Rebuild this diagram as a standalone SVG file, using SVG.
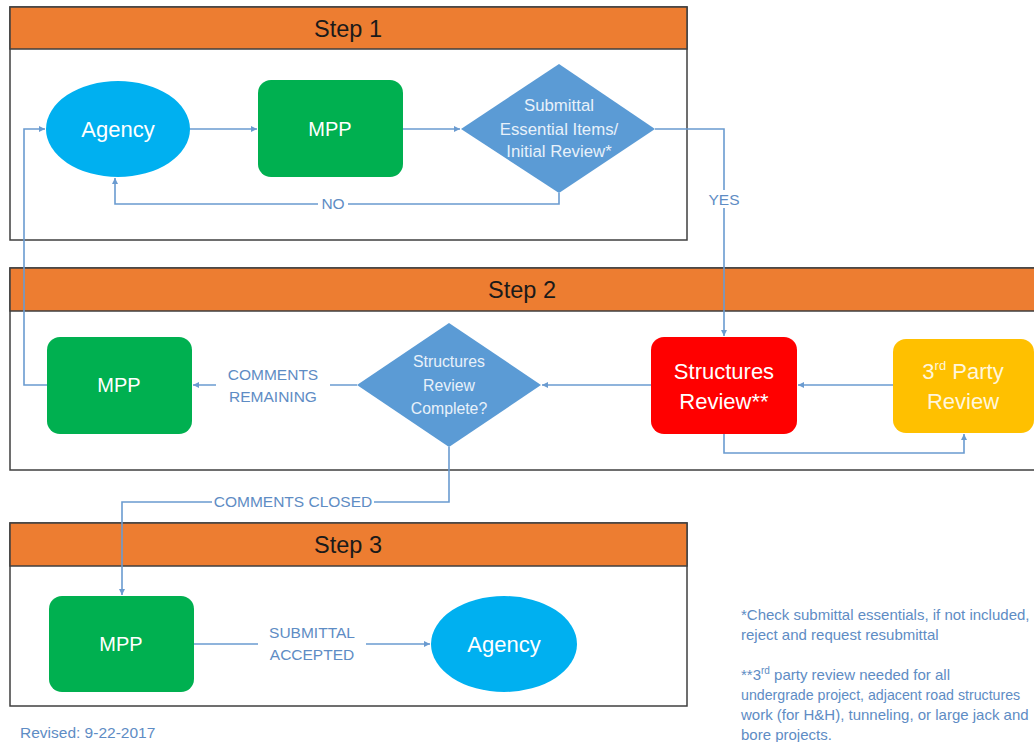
<svg xmlns="http://www.w3.org/2000/svg" width="1034" height="742" viewBox="0 0 1034 742">
<style>
.frame{fill:#fff;stroke:#3f3f3f;stroke-width:1.5}
.hdr{fill:#ED7D31;stroke:#3f3f3f;stroke-width:1.5}
.htxt{font-family:"Liberation Sans",Arial,sans-serif;font-size:23.5px;fill:#1a1a1a;text-anchor:middle}
.ntxt{font-family:"Liberation Sans",Arial,sans-serif;font-size:20px;fill:#fff;text-anchor:middle}
.big{font-size:22px}
.yel{fill:#FFF6DC}
.dtxt{font-family:"Liberation Sans",Arial,sans-serif;font-size:16.8px;fill:#e8f1fa;text-anchor:middle}
.dsm{font-size:15.8px}
.conn{fill:none;stroke:#6A9BD0;stroke-width:1.6}
.lbl{font-family:"Liberation Sans",Arial,sans-serif;font-size:15.5px;fill:#5E8CC4;text-anchor:middle}
.lblbg{fill:#fff}
.note{font-family:"Liberation Sans",Arial,sans-serif;font-size:15px;fill:#5E8CC4}
</style>
<defs>
<marker id="arr" viewBox="0 0 10 10" refX="10" refY="5" markerWidth="6" markerHeight="6" markerUnits="userSpaceOnUse" orient="auto">
<path d="M0,0 L10,5 L0,10 z" fill="#6A9BD0"/>
</marker>
</defs>
<rect width="1034" height="742" fill="#fff"/>

<g id="step1">
<rect class="frame" x="10" y="7" width="677" height="233"/>
<rect class="hdr" x="10" y="7" width="677" height="42"/>
<text class="htxt" x="348" y="37">Step 1</text>
</g>
<g id="step2">
<rect class="frame" x="10" y="268" width="1040" height="202"/>
<rect class="hdr" x="10" y="268" width="1040" height="43"/>
<text class="htxt" x="522" y="298">Step 2</text>
</g>
<g id="step3">
<rect class="frame" x="10" y="523" width="677" height="183"/>
<rect class="hdr" x="10" y="523" width="677" height="43"/>
<text class="htxt" x="348" y="553">Step 3</text>
</g>

<g id="connectors">
<path class="conn" d="M190,129 H257" marker-end="url(#arr)"/>
<path class="conn" d="M403,129 H460" marker-end="url(#arr)"/>
<path class="conn" d="M559,193 V204 H115 V178" marker-end="url(#arr)"/>
<path class="conn" d="M655,129 H724 V336" marker-end="url(#arr)"/>
<path class="conn" d="M893,385 H798" marker-end="url(#arr)"/>
<path class="conn" d="M651,385 H542" marker-end="url(#arr)"/>
<path class="conn" d="M357,385 H193" marker-end="url(#arr)"/>
<path class="conn" d="M724,434 V453 H964 V434" marker-end="url(#arr)"/>
<path class="conn" d="M47,385 H24 V129 H45" marker-end="url(#arr)"/>
<path class="conn" d="M449,447 V502 H122 V595" marker-end="url(#arr)"/>
<path class="conn" d="M194,644 H430" marker-end="url(#arr)"/>
<rect class="lblbg" x="318" y="196" width="30" height="16"/>
<text class="lbl" x="333" y="209">NO</text>
<rect class="lblbg" x="708" y="190" width="32" height="18"/>
<text class="lbl" x="724" y="205">YES</text>
<rect class="lblbg" x="216" y="364" width="114" height="42"/>
<text class="lbl" x="273" y="380">COMMENTS</text>
<text class="lbl" x="273" y="402">REMAINING</text>
<rect class="lblbg" x="212" y="493" width="162" height="18"/>
<text class="lbl" x="293" y="507">COMMENTS CLOSED</text>
<rect class="lblbg" x="258" y="622" width="108" height="42"/>
<text class="lbl" x="312" y="638">SUBMITTAL</text>
<text class="lbl" x="312" y="660">ACCEPTED</text>
</g>

<g id="agency1">
<ellipse cx="118" cy="129" rx="72" ry="48" fill="#00B0F0"/>
<text class="ntxt big" x="118" y="137">Agency</text>
</g>
<g id="mpp1">
<rect x="258" y="80" width="145" height="97" rx="13" fill="#00B050"/>
<text class="ntxt" x="330" y="136">MPP</text>
</g>
<g id="decision1">
<polygon points="559,64 655,129 559,193 461,129" fill="#5B9BD5"/>
<text class="dtxt" x="559" y="111">Submittal</text>
<text class="dtxt" x="559" y="135">Essential Items/</text>
<text class="dtxt" x="559" y="157">Initial Review*</text>
</g>
<g id="mpp2">
<rect x="47" y="337" width="145" height="97" rx="13" fill="#00B050"/>
<text class="ntxt" x="119" y="392">MPP</text>
</g>
<g id="decision2">
<polygon points="449,323 541,385 449,447 357,385" fill="#5B9BD5"/>
<text class="dtxt dsm" x="449" y="367">Structures</text>
<text class="dtxt dsm" x="449" y="391">Review</text>
<text class="dtxt dsm" x="449" y="414">Complete?</text>
</g>
<g id="structures-review">
<rect x="651" y="337" width="146" height="97" rx="13" fill="#FF0000"/>
<text class="ntxt big" x="724" y="379">Structures</text>
<text class="ntxt big" x="724" y="409">Review**</text>
</g>
<g id="third-party-review">
<rect x="893" y="339" width="141" height="94" rx="13" fill="#FFC000"/>
<text class="ntxt big yel" x="963" y="379">3<tspan style="font-size:13px" dy="-9">rd</tspan><tspan dy="9"> Party</tspan></text>
<text class="ntxt big yel" x="963" y="409">Review</text>
</g>
<g id="mpp3">
<rect x="49" y="596" width="145" height="96" rx="13" fill="#00B050"/>
<text class="ntxt" x="121" y="651">MPP</text>
</g>
<g id="agency3">
<ellipse cx="504" cy="644" rx="73" ry="48" fill="#00B0F0"/>
<text class="ntxt big" x="504" y="652">Agency</text>
</g>

<g id="notes">
<text class="note" x="20" y="738" style="font-size:15.5px">Revised: 9-22-2017</text>
<text class="note" x="741" y="620">*Check submittal essentials, if not included,</text>
<text class="note" x="741" y="640">reject and request resubmittal</text>
<text class="note" x="741" y="680">**3<tspan style="font-size:10px" dy="-6">rd</tspan><tspan dy="6"> party review needed for all</tspan></text>
<text class="note" x="741" y="700" style="font-size:14.2px">undergrade project, adjacent road structures</text>
<text class="note" x="741" y="720">work (for H&amp;H), tunneling, or large jack and</text>
<text class="note" x="741" y="740">bore projects.</text>
</g>
</svg>
